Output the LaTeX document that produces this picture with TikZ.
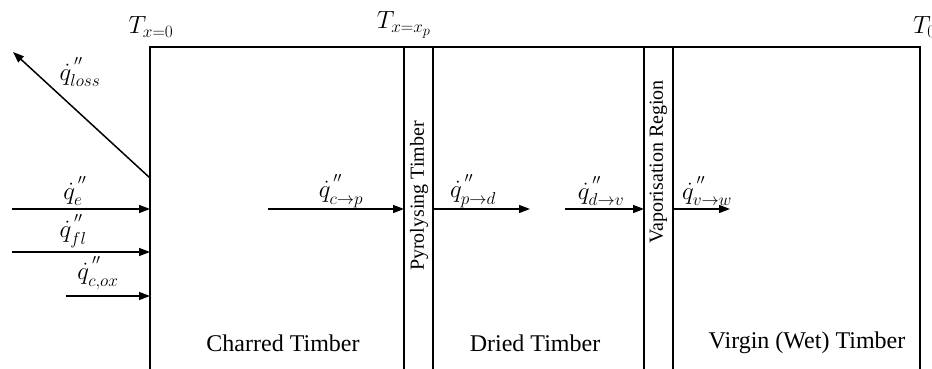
\documentclass[tikz,border=0pt]{standalone}
\usepackage{fontspec}
\setmainfont{Liberation Serif}
\usetikzlibrary{arrows.meta}
\DeclareMathSizes{23}{23}{18.5}{14}
\begin{document}
\begin{tikzpicture}[x=1pt,y=-1pt,
  wall/.style={line width=1.6pt},
  flux/.style={line width=1.5pt,-{Triangle[length=11pt,width=8pt]}},
  ml/.style={font=\fontsize{23}{26}\selectfont,inner sep=0pt},
  tl/.style={font=\fontsize{24}{27}\selectfont,inner sep=0pt},
  rl/.style={font=\fontsize{20}{22}\selectfont,inner sep=0pt,rotate=90}]
\useasboundingbox (0,0) rectangle (932,369);
% outline
\coordinate (bl) at (150,369);
\coordinate (tl) at (150,47);
\coordinate (tr) at (920,47);
\coordinate (br) at (920,369);
\draw[wall] (bl) -- (tl) -- (tr) -- (br);
\coordinate (p1t) at (404,47); \coordinate (p1b) at (404,369);
\coordinate (p2t) at (433,47); \coordinate (p2b) at (433,369);
\coordinate (v1t) at (644,47); \coordinate (v1b) at (644,369);
\coordinate (v2t) at (673,47); \coordinate (v2b) at (673,369);
\draw[wall] (p1t) -- (p1b) (p2t) -- (p2b) (v1t) -- (v1b) (v2t) -- (v2b);
% temperatures
\node[ml] (t0) at (151,27) {$T_{x=0}$};
\node[ml] (txp) at (404,25) {$T_{x=x_p}$};
\node[ml,anchor=west] (tinf) at (913,27) {$T_0$};
% region labels
\node[rl] (pyro) at (419,196) {Pyrolysing Timber};
\node[rl] (vap) at (658.5,162) {Vaporisation Region};
\node[tl] (char) at (283,343) {Charred Timber};
\node[tl] (dried) at (535,343) {Dried Timber};
\node[tl] (virgin) at (807,343) {Virgin (Wet) Timber};
% loss arrow
\coordinate (ls) at (150,178);
\coordinate (le) at (13,52);
\draw[flux] (ls) -- (le);
\node[ml] (qloss) at (80,72) {$\dot q^{\,''}_{loss}$};
% incoming fluxes
\coordinate (e0) at (12,209); \coordinate (e1) at (150,209);
\draw[flux] (e0) -- (e1);
\node[ml] (qe) at (75,191) {$\dot q^{\,''}_{e}$};
\coordinate (f0) at (12,252); \coordinate (f1) at (150,252);
\draw[flux] (f0) -- (f1);
\node[ml] (qfl) at (73,231) {$\dot q^{\,''}_{fl}$};
\coordinate (o0) at (66,296); \coordinate (o1) at (150,296);
\draw[flux] (o0) -- (o1);
\node[ml] (qcox) at (98,273) {$\dot q^{\,''}_{c,ox}$};
% internal fluxes
\coordinate (cp0) at (268,209); \coordinate (cp1) at (404,209);
\draw[flux] (cp0) -- (cp1);
\node[ml] (qcp) at (341,191) {$\dot q^{\,''}_{c\rightarrow p}$};
\coordinate (pd0) at (433,209); \coordinate (pd1) at (530,209);
\draw[flux] (pd0) -- (pd1);
\node[ml] (qpd) at (473,191) {$\dot q^{\,''}_{p\rightarrow d}$};
\coordinate (dv0) at (565,209); \coordinate (dv1) at (644,209);
\draw[flux] (dv0) -- (dv1);
\node[ml] (qdv) at (601,191) {$\dot q^{\,''}_{d\rightarrow v}$};
\coordinate (vw0) at (673,209); \coordinate (vw1) at (730,209);
\draw[flux] (vw0) -- (vw1);
\node[ml] (qvw) at (707,191) {$\dot q^{\,''}_{v\rightarrow w}$};
\end{tikzpicture}
\end{document}
